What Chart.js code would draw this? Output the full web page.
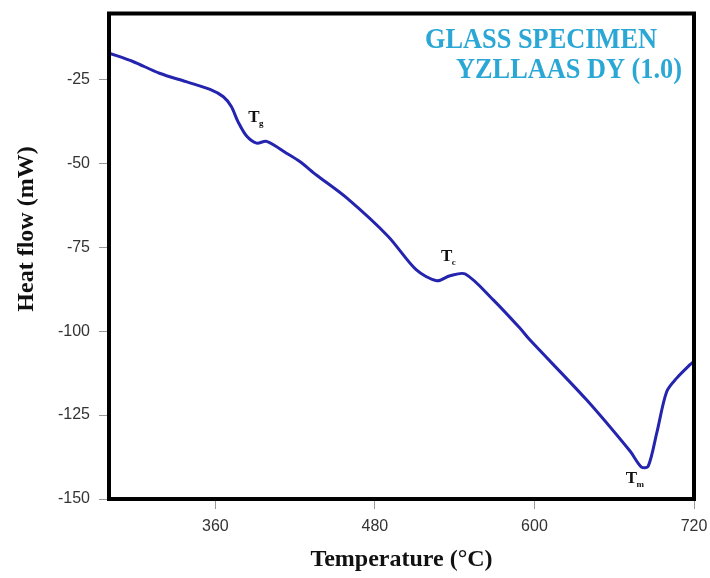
<!DOCTYPE html>
<html>
<head>
<meta charset="utf-8">
<title>DSC curve</title>
<script src="https://cdn.jsdelivr.net/npm/chart.js@4.4.1/dist/chart.umd.min.js"></script>
<style>
  html, body { margin: 0; padding: 0; background: #fff; }
  #c { display: block; }
</style>
</head>
<body>
<canvas id="c" width="710" height="578"></canvas>
<script>
// values
const temps = [280, 298, 318, 338, 356, 366, 372, 377, 383.5, 391, 398.5, 413.5, 423.5, 436, 459, 490,
  511, 526.5, 536.5, 548, 569, 589, 596.5, 639, 672, 680.5, 685.5, 692, 699.5, 707, 717, 720];
const heatFlow = [-17.2, -19.7, -23.2, -25.7, -28, -30.2, -33.1, -37.6, -41.9, -44, -43.5, -47, -49.5, -53.5, -60.4, -71.8,
  -81.7, -85, -83.5, -83, -90.7, -99.1, -102.6, -120.4, -135.8, -140.5, -140.3, -130.3, -118, -114, -110, -109];

const xTicks = [360, 480, 600, 720];
const yTicks = [-150, -125, -100, -75, -50, -25];

// transition markers (T_g, T_c, T_m)
const markSubs = ['g', 'c', 'm'];
const markX = [389, 534, 673];
const markY = [-36.3, -77.9, -143.8];

const titleLines = ['GLASS SPECIMEN', 'YZLLAAS DY (1.0)'];
const yTitle = 'Heat flow (mW)';

const serif = '"Liberation Serif", "Times New Roman", serif';
const sans = '"Liberation Sans", Arial, sans-serif';

const white = {
  id: 'white',
  beforeDraw(chart) {
    const ctx = chart.ctx;
    ctx.save();
    ctx.fillStyle = '#fff';
    ctx.fillRect(0, 0, chart.width, chart.height);
    ctx.restore();
  }
};

const extras = {
  id: 'extras',
  afterDraw(chart) {
    const { ctx, chartArea: a, scales: { x, y } } = chart;
    ctx.save();

    // frame
    ctx.strokeStyle = '#000';
    ctx.lineWidth = 4;
    ctx.strokeRect(a.left, a.top, a.right - a.left, a.bottom - a.top);

    // T labels
    ctx.fillStyle = '#111';
    ctx.textBaseline = 'middle';
    markSubs.forEach((s, i) => {
      const px = x.getPixelForValue(markX[i]);
      const py = y.getPixelForValue(markY[i]);
      ctx.font = 'bold 17px ' + serif;
      ctx.textAlign = 'center';
      ctx.fillText('T', px, py);
      ctx.font = 'bold 9px ' + serif;
      ctx.textAlign = 'left';
      ctx.fillText(s, px + 5, py + 6);
    });

    // y title sits a bit above the middle in the original
    ctx.save();
    ctx.translate(27, 229);
    ctx.rotate(-Math.PI / 2);
    ctx.font = 'bold 24px ' + serif;
    ctx.textAlign = 'center';
    ctx.textBaseline = 'middle';
    ctx.fillStyle = '#111';
    ctx.fillText(yTitle, 0, 0);
    ctx.restore();

    // specimen title, condensed like the original
    ctx.fillStyle = '#2AA7D5';
    ctx.font = 'bold 29px ' + serif;
    ctx.textAlign = 'left';
    ctx.textBaseline = 'alphabetic';
    const spots = [[425, 48, 232], [456, 78, 226]];
    titleLines.forEach((t, i) => {
      const [lx, ly, w] = spots[i];
      const sx = w / ctx.measureText(t).width;
      ctx.save();
      ctx.translate(lx, ly);
      ctx.scale(sx, 1);
      ctx.fillText(t, 0, 0);
      ctx.restore();
    });

    ctx.restore();
  }
};

// keep the plot box fixed: no extra room for edge labels
const noPad = (s) => { s.paddingLeft = 0; s.paddingRight = 0; s.paddingTop = 0; s.paddingBottom = 0; };

new Chart(document.getElementById('c'), {
  type: 'line',
  data: {
    datasets: [{
      data: temps.map((t, i) => ({ x: t, y: heatFlow[i] })),
      borderColor: '#2424AE',
      borderWidth: 3,
      pointRadius: 0,
      tension: 0.3,
      fill: false
    }]
  },
  options: {
    responsive: false,
    devicePixelRatio: 1,
    animation: false,
    layout: { padding: { top: 13.5, right: 16, bottom: 0, left: 0 } },
    plugins: { legend: { display: false }, tooltip: { enabled: false } },
    scales: {
      x: {
        type: 'linear',
        min: 280,
        max: 720,
        afterFit: (s) => { s.height = 79; noPad(s); },
        afterBuildTicks: (s) => { s.ticks = xTicks.map(v => ({ value: v })); },
        grid: { drawOnChartArea: false, tickLength: 10, color: '#999', tickWidth: 1 },
        border: { display: false },
        ticks: { color: '#333', font: { family: sans, size: 16 }, padding: 8, maxRotation: 0 },
        title: {
          display: true,
          text: 'Temperature (°C)',
          color: '#111',
          font: { family: serif, size: 24, weight: 'bold' },
          padding: { top: 0, bottom: 4 }
        }
      },
      y: {
        min: -150,
        max: -5.4,
        afterFit: (s) => { s.width = 109; noPad(s); },
        afterBuildTicks: (s) => { s.ticks = yTicks.map(v => ({ value: v })); },
        grid: { drawOnChartArea: false, tickLength: 10, color: '#999', tickWidth: 1 },
        border: { display: false },
        ticks: { color: '#333', font: { family: sans, size: 16 }, padding: 9 },
        title: { display: false }
      }
    }
  },
  plugins: [white, extras]
});
</script>
</body>
</html>
